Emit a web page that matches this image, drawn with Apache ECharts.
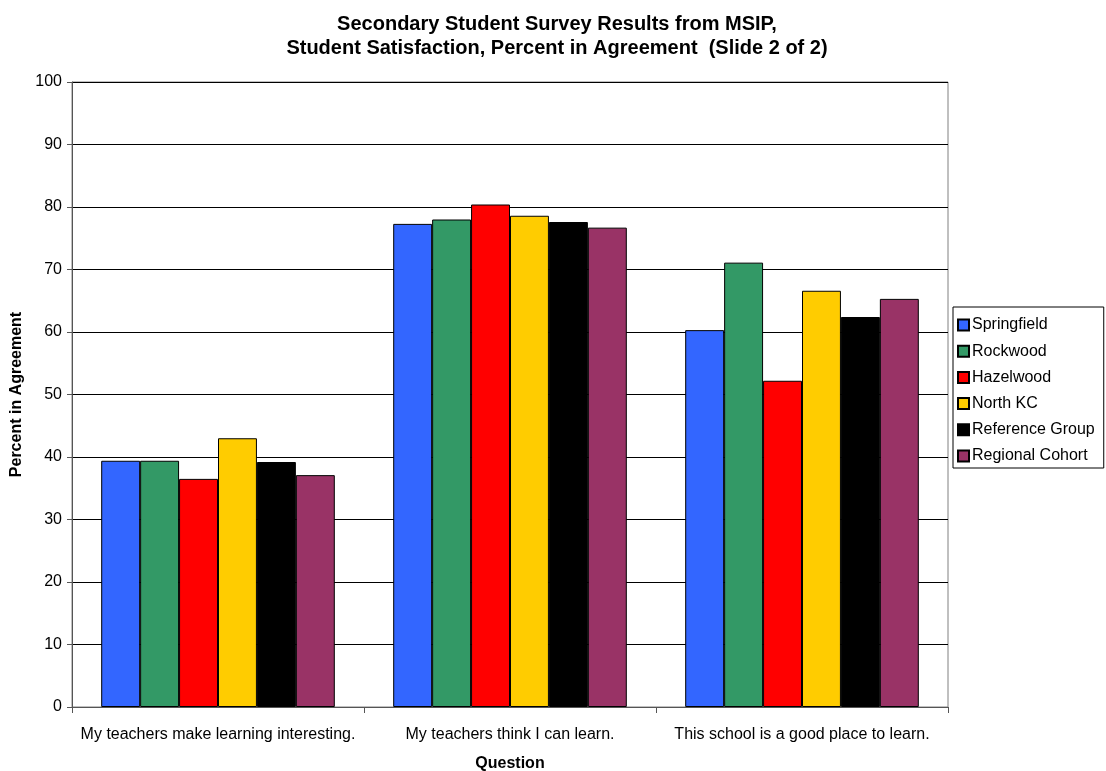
<!DOCTYPE html>
<html>
<head>
<meta charset="utf-8">
<script src="https://cdn.jsdelivr.net/npm/echarts@6/dist/echarts.min.js"></script>
<style>
  html, body { margin: 0; padding: 0; background: #fff; }
  #chart { width: 1106px; height: 771px; }
</style>
</head>
<body>
<div id="chart"></div>
<script>
// Survey questions (x-axis categories)
const questions = [
  'My teachers make learning interesting.',
  'My teachers think I can learn.',
  'This school is a good place to learn.'
];

// Percent in agreement per group
const springfield = [39.4, 77.3, 60.3];
const rockwood    = [39.4, 78.0, 71.1];
const hazelwood   = [36.5, 80.4, 52.2];
const northKC     = [43.0, 78.6, 66.6];
const refGroup    = [39.2, 77.6, 62.4];
const regional    = [37.1, 76.7, 65.3];

const seriesNames  = ['Springfield', 'Rockwood', 'Hazelwood', 'North KC', 'Reference Group', 'Regional Cohort'];
const seriesValues = [springfield, rockwood, hazelwood, northKC, refGroup, regional];
const seriesColors = ['#3366ff', '#339966', '#ff0000', '#ffcc00', '#000000', '#993366'];

const FONT = 'Liberation Sans, Arial, sans-serif';

const chart = echarts.init(document.getElementById('chart'));
chart.setOption({
  animation: false,
  backgroundColor: '#ffffff',
  title: {
    text: 'Secondary Student Survey Results from MSIP,\nStudent Satisfaction, Percent in Agreement  (Slide 2 of 2)',
    left: 552,
    top: 7,
    textAlign: 'center',
    textStyle: { fontFamily: FONT, fontSize: 20, fontWeight: 'bold', color: '#000', lineHeight: 24 }
  },
  legend: {
    orient: 'vertical',
    left: 953,
    top: 307,
    itemWidth: 11,
    itemHeight: 11,
    itemGap: 10.2,
    padding: [10, 9, 4, 4],
    borderColor: '#000',
    borderWidth: 1,
    textStyle: { fontFamily: FONT, fontSize: 16, color: '#000', padding: [0, 0, 0, -2] },
    data: seriesNames.map(n => ({ name: n, icon: 'rect' }))
  },
  grid: {
    left: 72, right: 158, top: 82, bottom: 64,
    outerBoundsMode: 'none',
    containLabel: false,
    show: true, borderColor: '#808080', borderWidth: 1
  },
  xAxis: {
    type: 'category',
    data: questions,
    name: 'Question',
    nameLocation: 'middle',
    nameGap: 49,
    nameTextStyle: { fontFamily: FONT, fontSize: 16, fontWeight: 'bold', color: '#000' },
    axisLine: { lineStyle: { color: '#555', width: 1 } },
    axisTick: { show: true, length: 6, lineStyle: { color: '#555' } },
    axisLabel: { interval: 0, fontFamily: FONT, fontSize: 16, color: '#000', margin: 20 }
  },
  yAxis: {
    type: 'value',
    min: 0, max: 100, interval: 10,
    name: 'Percent in Agreement',
    nameLocation: 'middle',
    nameGap: 45,
    nameTextStyle: { fontFamily: FONT, fontSize: 16, fontWeight: 'bold', color: '#000' },
    axisLine: { show: true, lineStyle: { color: '#555', width: 1 } },
    axisTick: { show: true, length: 5, lineStyle: { color: '#555' } },
    axisLabel: { fontFamily: FONT, fontSize: 16, color: '#000', margin: 10 },
    splitLine: { lineStyle: { color: '#000', width: 1 } }
  },
  series: seriesNames.map((name, i) => ({
    name,
    type: 'bar',
    data: seriesValues[i],
    barGap: '0%',
    barCategoryGap: '20%',
    itemStyle: { color: seriesColors[i], borderColor: '#000', borderWidth: 1 }
  }))
});
</script>
</body>
</html>
